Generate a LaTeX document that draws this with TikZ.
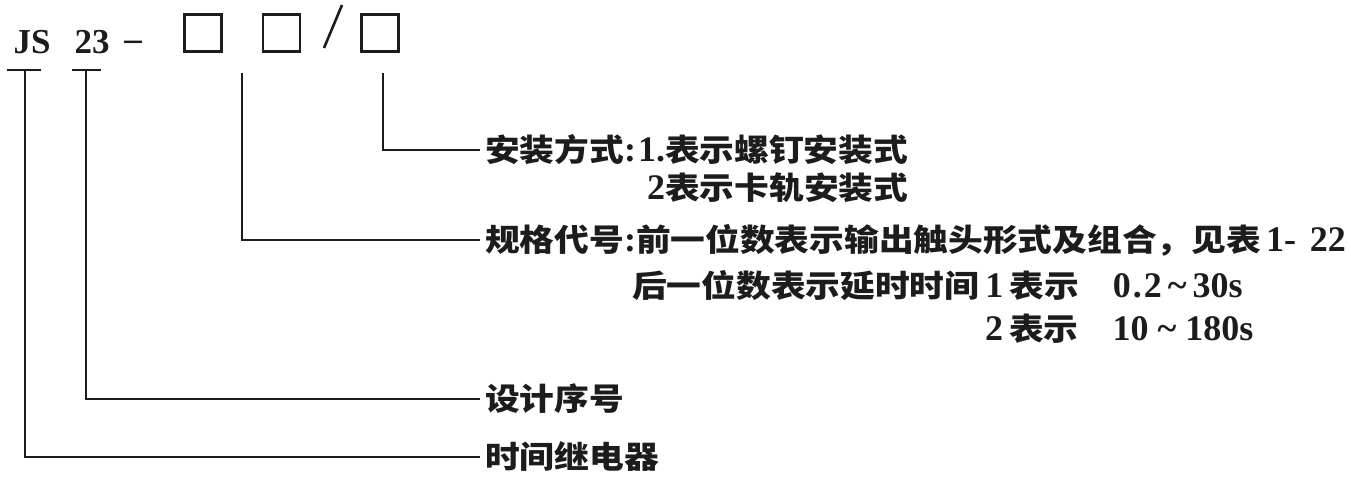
\documentclass[tikz,border=0pt]{standalone}
\usepackage{fontspec}
\setmainfont{Liberation Serif}
\newfontfamily\cjk{Noto Sans CJK SC}[FakeStretch=1.12]
\usetikzlibrary{calc}
\newcommand{\zh}[1]{{\fontsize{31}{36}\selectfont\cjk\bfseries #1}}
\definecolor{ink}{RGB}{28,28,28}
\tikzset{
  ln/.style={line width=2.6pt, draw=ink},
  codebox/.style={draw=ink, line width=2.6pt, minimum size=37pt, inner sep=0pt},
  lbl/.style={anchor=base west, inner sep=0pt, text=ink, font=\fontsize{36}{40}\selectfont\bfseries},
  code/.style={anchor=base, inner sep=0pt, text=ink, font=\fontsize{35}{40}\selectfont\bfseries},
}
\begin{document}
\begin{tikzpicture}[x=1pt,y=-1pt]
\useasboundingbox (0,0) rectangle (1351,490);
% model code
\node[code] (js) at (32,53) {JS};
\node[code] (n23) at (92,53) {23};
\node[code] (dash) at (133,50) {–};
\node[codebox] (b1) at (203,33) {};
\node[codebox] (b2) at (281.5,33) {};
\node[codebox] (b3) at (380,33) {};
\coordinate (s1) at (324,48);
\coordinate (s2) at (342,5);
\draw[ln] (s1) -- (s2);
% labels
\node[lbl] (l1a) at (485,161) {\zh{安装方式}:\hspace{2pt}1.\zh{表示螺钉安装式}};
\node[lbl] (l1b) at (647,199) {2\zh{表示卡轨安装式}};
\node[lbl] (l2a) at (485,251) {\zh{规格代号}:\zh{前一位数表示输出触头形式及组合，见表}\hspace{5pt}1-\hspace{14pt}22};
\node[lbl] (l2b) at (632,297) {\zh{后一位数表示延时时间}\hspace{6pt}1\hspace{6pt}\zh{表示}\hspace{34pt}0\hspace{2pt}.\hspace{2pt}2\hspace{6pt}\textasciitilde\hspace{6pt}30s};
\node[lbl] (l2c) at (985,340) {2\hspace{6pt}\zh{表示}\hspace{34pt}10\hspace{9pt}\textasciitilde\hspace{9pt}180s};
\node[lbl] (l3) at (485,410) {\zh{设计序号}};
\node[lbl] (l4) at (485,468) {\zh{时间继电器}};
% connectors
\coordinate (tjl) at (7,70);
\coordinate (tjr) at (41,70);
\coordinate (tj) at (25,70);
\coordinate (tnl) at (72,70);
\coordinate (tnr) at (101,70);
\coordinate (tn) at (86,70);
\coordinate (c12) at (242,73);
\coordinate (c3) at (383,73);
\draw[ln] (tjl) -- (tjr);
\draw[ln] (tnl) -- (tnr);
\draw[ln] (tj) |- ($(l4.base west)+(-5,-11)$);
\draw[ln] (tn) |- ($(l3.base west)+(-5,-11)$);
\draw[ln] (c12) |- ($(l2a.base west)+(-5,-11)$);
\draw[ln] (c3) |- ($(l1a.base west)+(-5,-11)$);
\end{tikzpicture}
\end{document}
